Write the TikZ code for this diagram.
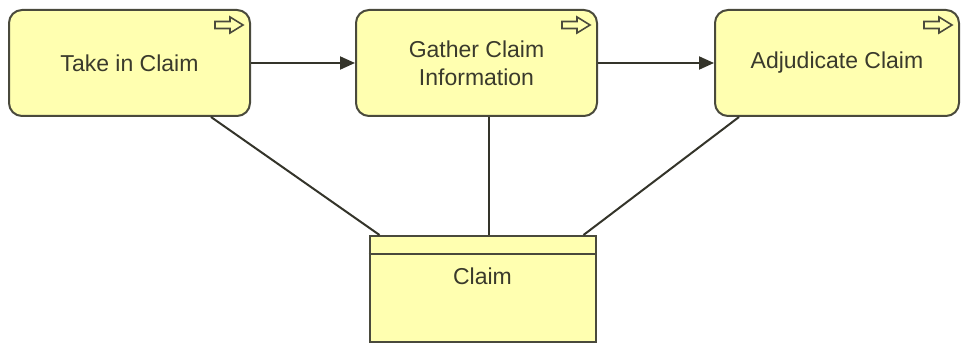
\documentclass[tikz,border=0pt]{standalone}
\usepackage{fontspec}
\setmainfont{Liberation Sans}
\usetikzlibrary{arrows.meta}

\definecolor{procfill}{HTML}{FFFFB0}
\definecolor{procline}{HTML}{4A4A3C}
\definecolor{proctext}{HTML}{3A3A2C}

\tikzset{
  process/.style={draw=procline, line width=2pt, fill=procfill, rounded corners=13pt,
    minimum height=106pt, text=proctext, align=center,
    font=\fontsize{23}{28}\selectfont},
  object/.style={draw=procline, line width=2pt, fill=procfill,
    minimum width=226pt, minimum height=106pt},
  link/.style={draw=procline!70!black, line width=2pt},
  flow/.style={link, -{Triangle[length=15pt,width=13pt]}}
}

% hollow arrow icon in the top right corner of a process
\newcommand{\procicon}[1]{
  \draw[procline, line width=1.6pt, fill=procfill, shift={($(#1.north east)+(-36,16)$)}]
    (0,-3.5) -- (15,-3.5) -- (15,-8) -- (28,0) -- (15,8) -- (15,3.5) -- (0,3.5) -- cycle;
}

\usetikzlibrary{calc}

\begin{document}
\begin{tikzpicture}[x=1pt, y=-1pt]
  \useasboundingbox (0,0) rectangle (961,344);
  % processes
  \node[process, minimum width=241pt] (take) at (129.5,63) {Take in Claim};
  \node[process, minimum width=241pt] (gather) at (476.5,63) {Gather Claim\\Information};
  \node[process, minimum width=244pt] (adjudicate) at (837,63) {Adjudicate Claim};
  \procicon{take}
  \procicon{gather}
  \procicon{adjudicate}
  % business object
  \node[object] (claim) at (482.5,289) {};
  \draw[procline, line width=2pt] ($(claim.north west)+(0,19)$) coordinate (hl)
    -- ($(claim.north east)+(0,19)$) coordinate (hr);
  \node[text=proctext, font=\fontsize{23}{28}\selectfont] (claimlabel) at ($(claim.north)+(0,41)$) {Claim};
  % flows
  \draw[flow] (take.east) -- (gather.west);
  \draw[flow] (gather.east) -- (adjudicate.west);
  % associations
  \draw[link] ($(take.south east)+(-40,0)$) -- ($(claim.north west)+(11,0)$);
  \draw[link] ($(gather.south)+(12,0)$) -- ($(claim.north)+(6,0)$);
  \draw[link] ($(adjudicate.south west)+(25,0)$) -- ($(claim.north east)+(-13,0)$);
\end{tikzpicture}
\end{document}
